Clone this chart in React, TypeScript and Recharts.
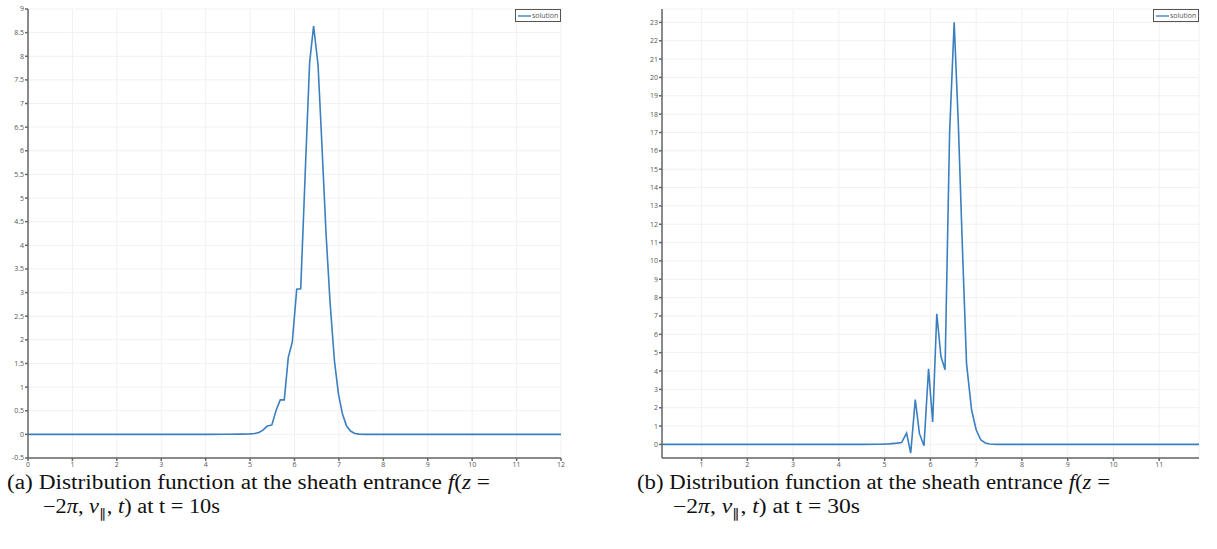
import React from 'react';
import { LineChart, Line, XAxis, YAxis, CartesianGrid, Legend } from 'recharts';

// f(z = -2π, v∥, t) sampled along v∥, t = 10s
const velA = [0, 1, 2, 3, 4, 4.5, 4.8, 5.0, 5.1, 5.2, 5.29, 5.38, 5.49, 5.59, 5.68, 5.77, 5.86, 5.95, 6.05, 6.14, 6.24, 6.34, 6.43, 6.53, 6.62, 6.71, 6.8, 6.9, 6.99, 7.08, 7.17, 7.26, 7.36, 7.45, 7.6, 8, 9, 10, 11, 12];
const distA = [0, 0, 0, 0, 0, 0.002, 0.005, 0.01, 0.02, 0.04, 0.09, 0.17, 0.2, 0.52, 0.73, 0.73, 1.63, 1.95, 3.07, 3.08, 5.5, 7.86, 8.64, 7.82, 6.07, 4.25, 2.8, 1.55, 0.85, 0.43, 0.18, 0.07, 0.02, 0.005, 0, 0, 0, 0, 0, 0];

// same quantity at t = 30s
const velB = [0.135, 1, 2, 3, 4, 4.5, 4.9, 5.1, 5.27, 5.37, 5.48, 5.57, 5.67, 5.76, 5.86, 5.96, 6.05, 6.14, 6.23, 6.32, 6.42, 6.52, 6.61, 6.7, 6.79, 6.9, 7.0, 7.1, 7.2, 7.3, 7.45, 8, 9, 10, 11, 11.87];
const distB = [0, 0, 0, 0, 0, 0, 0.01, 0.03, 0.07, 0.1, 0.62, -0.47, 2.44, 0.6, -0.07, 4.12, 1.22, 7.12, 4.8, 4.07, 17.0, 23.0, 17.5, 10.7, 4.4, 1.89, 0.8, 0.25, 0.08, 0.02, 0, 0, 0, 0, 0, 0];

const xTicksA = [0, 1, 2, 3, 4, 5, 6, 7, 8, 9, 10, 11, 12];
const yTicksA = [-0.5, 0, 0.5, 1, 1.5, 2, 2.5, 3, 3.5, 4, 4.5, 5, 5.5, 6, 6.5, 7, 7.5, 8, 8.5, 9];
const xTicksB = [1, 2, 3, 4, 5, 6, 7, 8, 9, 10, 11];
const yTicksB = [0, 1, 2, 3, 4, 5, 6, 7, 8, 9, 10, 11, 12, 13, 14, 15, 16, 17, 18, 19, 20, 21, 22, 23];

const LINE = '#3b7fc0';
const AXIS = '#666';
const TICK_FONT = { fontSize: 7, fill: '#555', fontFamily: 'Open Sans, sans-serif' };

const toRows = (v: number[], f: number[]) => v.map((x, i) => ({ v: x, f: f[i] }));

const SolutionKey = () => (
  <div
    style={{
      boxSizing: 'border-box',
      width: 46,
      height: 13,
      border: '1px solid #555',
      background: '#fff',
      display: 'flex',
      alignItems: 'center',
      fontFamily: 'Open Sans, sans-serif',
      fontSize: 7,
      color: '#555',
      whiteSpace: 'nowrap',
    }}
  >
    <span style={{ width: 13, borderTop: '2px solid #7aa7d6', margin: '0 1px 0 2px' }} />
    solution
  </div>
);

type PanelProps = {
  left: number;
  width: number;
  rows: { v: number; f: number }[];
  xDomain: [number, number];
  yDomain: [number, number];
  xTicks: number[];
  yTicks: number[];
  margin: { top: number; right: number; bottom: number; left: number };
};

function Panel({ left, width, rows, xDomain, yDomain, xTicks, yTicks, margin }: PanelProps) {
  return (
    <div style={{ position: 'absolute', left, top: 0 }}>
      <LineChart width={width} height={475} data={rows} margin={margin}>
        <CartesianGrid stroke="#f1f1f1" strokeWidth={1} />
        <XAxis
          dataKey="v"
          type="number"
          domain={xDomain}
          ticks={xTicks}
          allowDataOverflow
          height={1}
          tickSize={3}
          tickMargin={1}
          stroke={AXIS}
          strokeWidth={1.5}
          tick={TICK_FONT}
          interval={0}
        />
        <YAxis
          type="number"
          domain={yDomain}
          ticks={yTicks}
          allowDataOverflow
          width={1}
          tickSize={3}
          tickMargin={1}
          stroke={AXIS}
          strokeWidth={1.5}
          tick={TICK_FONT}
          interval={0}
        />
        <Legend
          layout="horizontal"
          verticalAlign="middle"
          content={<SolutionKey />}
          wrapperStyle={{ top: 9, left: width - margin.right - 46, width: 46 }}
        />
        <Line
          type="linear"
          dataKey="f"
          name="solution"
          stroke={LINE}
          strokeWidth={1.6}
          dot={false}
          isAnimationActive={false}
        />
      </LineChart>
    </div>
  );
}

const SERIF = 'Liberation Serif, Times New Roman, serif';

function Caption({ x, tag, time, len1, len2 }: { x: number; tag: string; time: string; len1: number; len2: number }) {
  return (
    <g fontFamily={SERIF} fontSize={20} fill="#111">
      <text x={x} y={489} textLength={len1} lengthAdjust="spacingAndGlyphs">
        {tag} Distribution function at the sheath entrance <tspan fontStyle="italic">f</tspan>(
        <tspan fontStyle="italic">z</tspan> =
      </text>
      <text x={x + 36} y={513} textLength={len2} lengthAdjust="spacingAndGlyphs">
        −2<tspan fontStyle="italic">π</tspan>, <tspan fontStyle="italic">v</tspan>
        <tspan fontSize={13} dy={5}>∥</tspan>
        <tspan dy={-5}>, </tspan>
        <tspan fontStyle="italic">t</tspan>) at t = {time}
      </text>
    </g>
  );
}

export default function App() {
  return (
    <div style={{ position: 'absolute', left: 0, top: 0, width: 1217, height: 549, background: '#fff' }}>
      <Panel
        left={0}
        width={580}
        rows={toRows(velA, distA)}
        xDomain={[0, 12]}
        yDomain={[-0.5, 9]}
        xTicks={xTicksA}
        yTicks={yTicksA}
        margin={{ top: 9, right: 19, bottom: 16, left: 27 }}
      />
      <Panel
        left={610}
        width={607}
        rows={toRows(velB, distB)}
        xDomain={[0.135, 11.87]}
        yDomain={[-0.74, 23.73]}
        xTicks={xTicksB}
        yTicks={yTicksB}
        margin={{ top: 9, right: 18, bottom: 16, left: 51 }}
      />
      <svg width={1217} height={549} style={{ position: 'absolute', left: 0, top: 0, pointerEvents: 'none' }}>
        <Caption x={7} tag="(a)" time="10s" len1={483} len2={177} />
        <Caption x={637} tag="(b)" time="30s" len1={473} len2={187} />
      </svg>
    </div>
  );
}
